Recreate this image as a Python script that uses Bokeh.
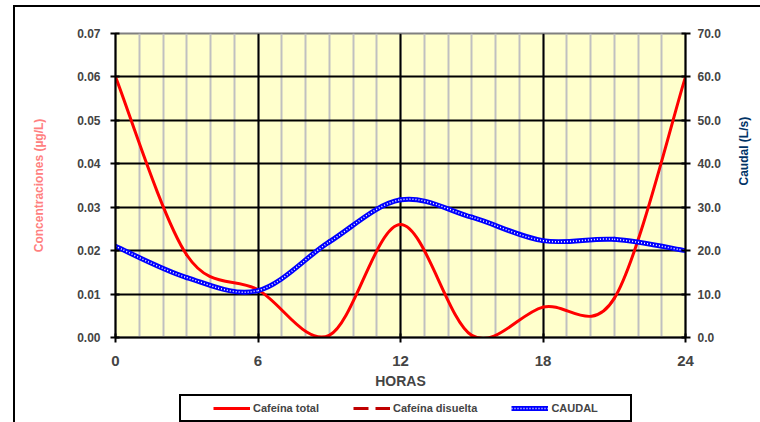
import math
from bokeh.plotting import figure
from bokeh.layouts import column
from bokeh.models import (Range1d, LinearAxis, FixedTicker, PrintfTickFormatter, Legend,
                          LegendItem, Title)
from bokeh.embed import file_html
from bokeh.resources import INLINE

# ---------------- data ----------------
hours = [0, 3, 6, 9, 12, 15, 18, 21, 24]
cafeina_total = [0.060, 0.019, 0.011, 0.0005, 0.026, 0.0005, 0.007, 0.009, 0.060]
caudal = [21.0, 13.8, 10.8, 22.0, 31.7, 27.7, 22.3, 22.6, 20.0]
x_ticks = [0, 6, 12, 18, 24]
hour_lines = list(range(0, 25))
y_ticks = [0.00, 0.01, 0.02, 0.03, 0.04, 0.05, 0.06, 0.07]
y2_ticks = [0, 10, 20, 30, 40, 50, 60, 70]
legend_labels = ["Cafeína total", "Cafeína disuelta", "CAUDAL"]

FONT = "Liberation Sans"
NAN = float("nan")


def smooth_segments(xs, ys):
    """Excel-like smoothed line: cubic Bezier control points (Catmull-Rom)."""
    n = len(xs)
    out = dict(x0=[], y0=[], x1=[], y1=[], cx0=[], cy0=[], cx1=[], cy1=[])
    for i in range(n - 1):
        i0 = max(i - 1, 0)
        i3 = min(i + 2, n - 1)
        out["x0"].append(xs[i]); out["y0"].append(ys[i])
        out["x1"].append(xs[i + 1]); out["y1"].append(ys[i + 1])
        out["cx0"].append(xs[i] + (xs[i + 1] - xs[i0]) / 6.0)
        out["cy0"].append(ys[i] + (ys[i + 1] - ys[i0]) / 6.0)
        out["cx1"].append(xs[i + 1] - (xs[i3] - xs[i]) / 6.0)
        out["cy1"].append(ys[i + 1] - (ys[i3] - ys[i]) / 6.0)
    return out


MAIN_H = 397
p = figure(width=760, height=MAIN_H, x_range=Range1d(0, 24), y_range=Range1d(0, 0.07),
           output_backend="svg", toolbar_location=None,
           min_border_left=115, min_border_right=75, min_border_top=33,
           min_border_bottom=MAIN_H - 337)
p.extra_y_ranges = {"caudal": Range1d(0, 70)}

p.background_fill_color = "#FFFFCC"
p.border_fill_alpha = 0
p.outline_line_color = "#808080"
p.outline_line_width = 2

# grids
p.xgrid.ticker = FixedTicker(ticks=[6, 12, 18], minor_ticks=hour_lines)
p.xgrid.grid_line_color = "black"
p.xgrid.grid_line_width = 2
p.xgrid.minor_grid_line_color = "#C0C0C0"
p.xgrid.minor_grid_line_width = 2
p.ygrid.ticker = FixedTicker(ticks=y_ticks[1:-1])
p.ygrid.grid_line_color = "black"
p.ygrid.grid_line_width = 2

# x axis
xa = p.xaxis[0]
xa.ticker = FixedTicker(ticks=x_ticks)
xa.axis_line_width = 2
xa.major_tick_line_width = 2
xa.major_tick_in = 4
xa.major_tick_out = 5
xa.minor_tick_line_color = None
xa.major_label_text_font = FONT
xa.major_label_text_font_style = "bold"
xa.major_label_text_font_size = "15px"
xa.major_label_standoff = 13

# left axis
ya = p.yaxis[0]
ya.ticker = FixedTicker(ticks=y_ticks)
ya.formatter = PrintfTickFormatter(format="%.2f")
ya.axis_line_width = 2
ya.major_tick_line_width = 2
ya.major_tick_in = 4
ya.major_tick_out = 5
ya.minor_tick_line_color = None
ya.major_label_text_font = FONT
ya.major_label_text_font_style = "bold"
ya.major_label_text_font_size = "12px"
ya.major_label_standoff = 10
ya.axis_label = "Concentraciones (µg/L)"
ya.axis_label_text_font = FONT
ya.axis_label_text_font_style = "bold"
ya.axis_label_text_font_size = "12px"
ya.axis_label_text_color = "#FF8080"
ya.axis_label_standoff = 28

# right axis
ra = LinearAxis(y_range_name="caudal", ticker=FixedTicker(ticks=y2_ticks),
                formatter=PrintfTickFormatter(format="%.1f"))
ra.axis_line_width = 2
ra.major_tick_line_width = 2
ra.major_tick_in = 4
ra.major_tick_out = 5
ra.minor_tick_line_color = None
ra.major_label_text_font = FONT
ra.major_label_text_font_style = "bold"
ra.major_label_text_font_size = "12px"
ra.major_label_standoff = 7
ra.axis_label = "Caudal (L/s)"
ra.axis_label_text_font = FONT
ra.axis_label_text_font_style = "bold"
ra.axis_label_text_font_size = "12px"
ra.axis_label_text_color = "#003366"
ra.axis_label_standoff = 20
ra.axis_label_orientation = math.pi / 2
p.add_layout(ra, "right")

# x axis title
p.add_layout(Title(text="HORAS", align="center", offset=44, text_font=FONT,
                   text_font_style="bold", text_font_size="14px", standoff=5), "below")

# ---------------- series ----------------
seg_t = smooth_segments(hours, cafeina_total)
p.bezier(source=seg_t, x0="x0", y0="y0", x1="x1", y1="y1", cx0="cx0", cy0="cy0",
         cx1="cx1", cy1="cy1", line_color="#FF0000", line_width=3, line_cap="round")

seg_q = smooth_segments(hours, caudal)
p.bezier(source=seg_q, x0="x0", y0="y0", x1="x1", y1="y1", cx0="cx0", cy0="cy0",
         cx1="cx1", cy1="cy1", line_color="#0000FF", line_width=5, line_cap="round",
         y_range_name="caudal")
p.bezier(source=seg_q, x0="x0", y0="y0", x1="x1", y1="y1", cx0="cx0", cy0="cy0",
         cx1="cx1", cy1="cy1", line_color="white", line_width=1.5, line_dash="1 2",
         y_range_name="caudal")

# ---------------- legend strip (its own small figure) ----------------
LEG_H = 422 - MAIN_H
q = figure(width=760, height=LEG_H, x_range=Range1d(0, 1), y_range=Range1d(0, 1),
           output_backend="svg", toolbar_location=None, x_axis_type=None, y_axis_type=None,
           min_border=0)
q.outline_line_color = None
q.background_fill_alpha = 0
q.border_fill_alpha = 0
q.grid.visible = False

# legend proxies (no visible data)
r1 = q.line(x=[NAN], y=[NAN], line_color="#FF0000", line_width=3)
r2 = q.line(x=[NAN], y=[NAN], line_color="#C00000", line_width=3, line_dash="15 7")
r3a = q.line(x=[NAN], y=[NAN], line_color="#0000FF", line_width=5)
r3b = q.line(x=[NAN], y=[NAN], line_color="white", line_width=1.5, line_dash="1 2")

legend = Legend(items=[LegendItem(label=legend_labels[0], renderers=[r1]),
                       LegendItem(label=legend_labels[1], renderers=[r2]),
                       LegendItem(label=legend_labels[2], renderers=[r3a, r3b])],
                orientation="horizontal", location=(93, 2),
                glyph_width=37, glyph_height=14, label_height=14, label_standoff=3,
                spacing=34, padding=5, margin=0,
                label_text_font=FONT, label_text_font_style="bold", label_text_font_size="11px",
                border_line_alpha=0, background_fill_alpha=0)
q.add_layout(legend, "center")

layout = column(p, q, spacing=0)


# chart frame and legend box (decorative lines behind the transparent canvases)
def _bar(x, y, w, h):
    return f"linear-gradient(#000,#000) {x}px {y}px / {w}px {h}px no-repeat"


layout.styles = {"background": ", ".join([
    _bar(13, 5, 2, 430), _bar(13, 5, 760, 2),
    _bar(179, 394, 453, 2), _bar(179, 394, 2, 30), _bar(630, 394, 2, 30),
    _bar(179, 420, 453, 2)]) + ", #ffffff"}

open("out.html", "w").write(file_html(layout, INLINE))
